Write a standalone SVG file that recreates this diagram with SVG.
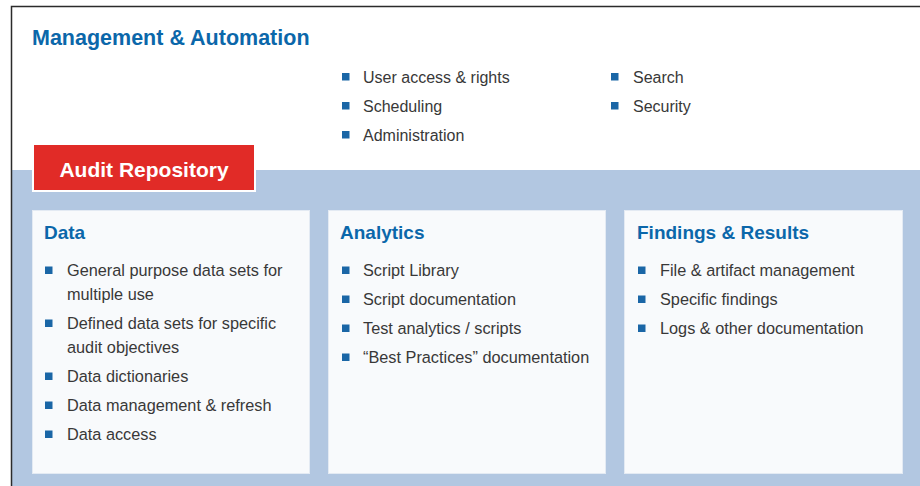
<svg xmlns="http://www.w3.org/2000/svg" width="920" height="486" viewBox="0 0 920 486">
<style>
.title{font-family:"Liberation Sans",Arial,sans-serif;font-weight:bold;fill:#0b67aa}
.item{font-family:"Liberation Sans",Arial,sans-serif;font-size:16px;fill:#383838}
.pitem{font-size:16.3px}
.bul{fill:#1a66a6}
.panel{fill:#f8fafc;stroke:#e3eaf3;stroke-width:1}
</style>
<defs>
<rect id="b" class="bul" width="7.5" height="7.5"/>
</defs>
<rect x="0" y="0" width="920" height="486" fill="#ffffff"/>
<rect x="12" y="170" width="908" height="316" fill="#b2c7e1"/>
<path d="M11.5 486 V6.5 H920" fill="none" stroke="#2b2b2b" stroke-width="1.5"/>

<g id="management">
<text class="title" x="32" y="45" font-size="21.5">Management &amp; Automation</text>
<use href="#b" x="342" y="73"/><text class="item" x="363" y="83">User access &amp; rights</text>
<use href="#b" x="342" y="102"/><text class="item" x="363" y="112">Scheduling</text>
<use href="#b" x="342" y="131"/><text class="item" x="363" y="141">Administration</text>
<use href="#b" x="611" y="73"/><text class="item" x="633" y="83">Search</text>
<use href="#b" x="611" y="102"/><text class="item" x="633" y="112">Security</text>
</g>

<g id="audit-repository">
<rect x="33" y="144" width="222" height="47" fill="#e12b27" stroke="#ffffff" stroke-width="2"/>
<text class="title" x="144" y="177" font-size="21" text-anchor="middle" style="fill:#ffffff">Audit Repository</text>
</g>

<g id="data">
<rect class="panel" x="32.5" y="210.5" width="277" height="263"/>
<text class="title" x="44" y="239" font-size="19">Data</text>
<use href="#b" x="45" y="266.5"/><text class="item pitem" x="67" y="276">General purpose data sets for</text>
<text class="item pitem" x="67" y="300">multiple use</text>
<use href="#b" x="45" y="319.5"/><text class="item pitem" x="67" y="329">Defined data sets for specific</text>
<text class="item pitem" x="67" y="353">audit objectives</text>
<use href="#b" x="45" y="372.5"/><text class="item pitem" x="67" y="382">Data dictionaries</text>
<use href="#b" x="45" y="401.5"/><text class="item pitem" x="67" y="411">Data management &amp; refresh</text>
<use href="#b" x="45" y="430.5"/><text class="item pitem" x="67" y="440">Data access</text>
</g>

<g id="analytics">
<rect class="panel" x="328.5" y="210.5" width="277" height="263"/>
<text class="title" x="340" y="239" font-size="19">Analytics</text>
<use href="#b" x="342" y="266.5"/><text class="item pitem" x="363" y="276">Script Library</text>
<use href="#b" x="342" y="295.5"/><text class="item pitem" x="363" y="305">Script documentation</text>
<use href="#b" x="342" y="324.5"/><text class="item pitem" x="363" y="334">Test analytics / scripts</text>
<use href="#b" x="342" y="353.5"/><text class="item pitem" x="363" y="363">“Best Practices” documentation</text>
</g>

<g id="findings">
<rect class="panel" x="624.5" y="210.5" width="278" height="263"/>
<text class="title" x="637" y="239" font-size="19">Findings &amp; Results</text>
<use href="#b" x="638" y="266.5"/><text class="item pitem" x="660" y="276">File &amp; artifact management</text>
<use href="#b" x="638" y="295.5"/><text class="item pitem" x="660" y="305">Specific findings</text>
<use href="#b" x="638" y="324.5"/><text class="item pitem" x="660" y="334">Logs &amp; other documentation</text>
</g>

<g id="connectors"></g>
</svg>
